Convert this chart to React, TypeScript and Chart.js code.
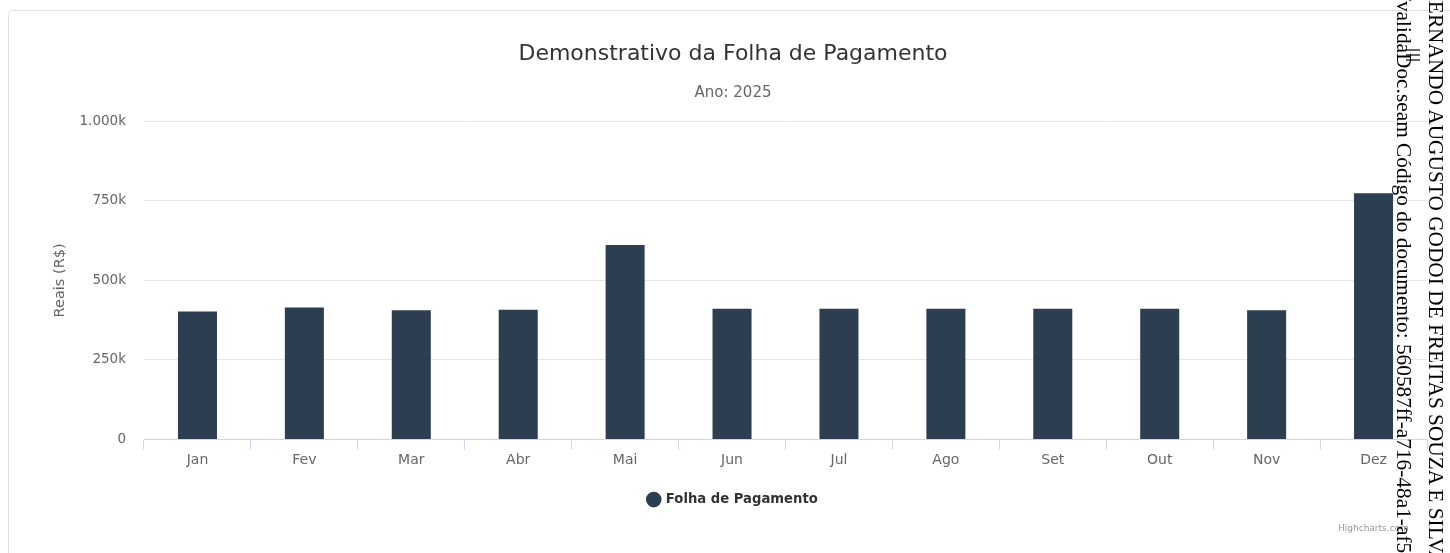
import React, { useEffect, useRef } from 'react';
import { Chart, registerables } from 'chart.js';

Chart.register(...registerables);

const categories = ['Jan', 'Fev', 'Mar', 'Abr', 'Mai', 'Jun', 'Jul', 'Ago', 'Set', 'Out', 'Nov', 'Dez'];
const folhaValues = [402000, 415000, 406000, 408000, 611000, 411000, 411000, 411000, 411000, 411000, 406000, 774000];
const yTickValues = [0, 250000, 500000, 750000, 1000000];
const yTickLabels = ['0', '250k', '500k', '750k', '1.000k'];
const seriesName = 'Folha de Pagamento';
const chartTitle = 'Demonstrativo da Folha de Pagamento';
const chartSubtitle = 'Ano: 2025';
const yAxisTitle = 'Reais (R$)';
const creditsText = 'Highcharts.com';
const stampLine1 = 'FERNANDO AUGUSTO GODOI DE FREITAS SOUZA E SILVA';
const stampLine2 = '/validaDoc.seam Código do documento: 560587ff-a716-48a1-af5';

const FONT = "'DejaVu Sans', sans-serif";

export default function App() {
  const canvasRef = useRef<HTMLCanvasElement | null>(null);

  useEffect(() => {
    const canvas = canvasRef.current;
    if (!canvas) return;
    const chart = new Chart(canvas, {
      type: 'bar',
      data: {
        labels: categories,
        datasets: [
          {
            label: seriesName,
            data: folhaValues,
            backgroundColor: '#2c3e50',
            borderWidth: 0,
            categoryPercentage: 0.365,
            barPercentage: 1,
          },
        ],
      },
      options: {
        responsive: false,
        maintainAspectRatio: false,
        animation: false,
        devicePixelRatio: 1,
        layout: { padding: { left: 39, right: 23, top: 0, bottom: 36.8 } },
        plugins: {
          title: {
            display: true,
            text: chartTitle,
            color: '#333333',
            font: { family: FONT, size: 22, weight: 'normal', lineHeight: 1.2 },
            padding: { top: 41, bottom: 16.8 },
          },
          subtitle: {
            display: true,
            text: chartSubtitle,
            color: '#666666',
            font: { family: FONT, size: 15, weight: 'normal', lineHeight: 1.2 },
            padding: { top: 0, bottom: 19.1 },
          },
          legend: {
            position: 'bottom',
            labels: {
              usePointStyle: true,
              pointStyle: 'circle',
              boxWidth: 11,
              boxHeight: 11,
              padding: 22.7,
              color: '#333333',
              font: { family: FONT, size: 13.2, weight: 'bold' },
            },
          },
          tooltip: { enabled: false },
        },
        scales: {
          x: {
            grid: {
              display: true,
              drawOnChartArea: false,
              drawTicks: true,
              tickLength: 10,
              color: '#ccd6eb',
              offset: true,
            },
            border: { display: true, color: '#ccd6eb', width: 1 },
            ticks: {
              color: '#666666',
              padding: 2,
              maxRotation: 0,
              autoSkip: false,
              font: { family: FONT, size: 14 },
            },
          },
          y: {
            min: 0,
            max: 1000000,
            afterFit: (s: any) => {
              s.width = 105;
            },
            grid: { color: '#e6e6e6', drawTicks: true, tickLength: 18, tickColor: 'transparent' },
            border: { display: false },
            ticks: {
              stepSize: 250000,
              padding: 0,
              color: '#666666',
              font: { family: FONT, size: 13.5 },
              callback: (v: any) => {
                const i = yTickValues.indexOf(Number(v));
                return i >= 0 ? yTickLabels[i] : '';
              },
            },
            title: {
              display: true,
              text: yAxisTitle,
              color: '#666666',
              font: { family: FONT, size: 14.5 },
              padding: { top: 12.5, bottom: 4 },
            },
          },
        },
      },
    });
    return () => chart.destroy();
  }, []);

  const stampStyle: React.CSSProperties = {
    position: 'absolute',
    transform: 'rotate(90deg)',
    transformOrigin: '0 0',
    whiteSpace: 'nowrap',
    fontFamily: "'Liberation Serif', serif",
    fontSize: '16pt',
    lineHeight: '24px',
    color: '#000',
  };

  return (
    <div
      style={{
        position: 'fixed',
        left: 0,
        top: 0,
        width: 1450,
        height: 553,
        overflow: 'hidden',
        background: '#fff',
      }}
    >
      <div
        style={{
          position: 'absolute',
          left: 8,
          top: 10,
          width: 1480,
          height: 620,
          border: '1px solid #e2e2e2',
          borderRadius: 4,
          boxSizing: 'border-box',
        }}
      />
      <canvas
        ref={canvasRef}
        width={1450}
        height={553}
        style={{ position: 'absolute', left: 0, top: 0, width: 1450, height: 553 }}
      />
      <span
        style={{
          position: 'absolute',
          left: 1338,
          top: 523,
          fontFamily: FONT,
          fontSize: 9,
          lineHeight: '11px',
          color: '#999999',
          whiteSpace: 'nowrap',
        }}
      >
        {creditsText}
      </span>
      {[49, 54, 59].map((t) => (
        <div
          key={t}
          style={{ position: 'absolute', left: 1406, top: t, width: 14, height: 2, background: '#666666' }}
        />
      ))}
      <div style={{ ...stampStyle, left: 1448, top: -11 }}>{stampLine1}</div>
      <div style={{ ...stampStyle, left: 1416, top: -5 }}>{stampLine2}</div>
    </div>
  );
}
